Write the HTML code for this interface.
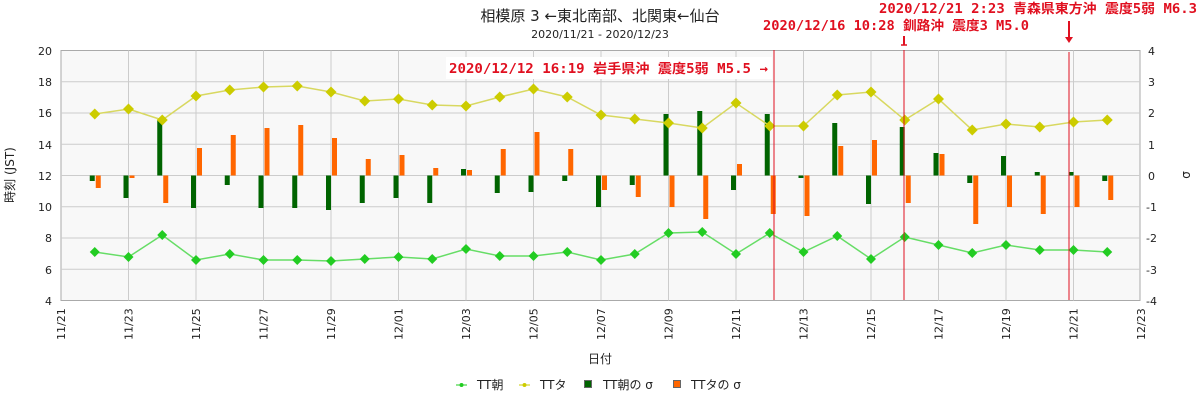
<!DOCTYPE html>
<html><head><meta charset="utf-8"><style>
body{margin:0;background:#fff;}
svg{display:block;font-family:"DejaVu Sans","Liberation Sans","Noto Sans CJK JP",sans-serif;}
.t{font-size:11px;fill:#222}
.r{font-family:"DejaVu Sans Mono","Liberation Mono","Noto Sans CJK JP",monospace;font-weight:bold;font-size:13px;fill:#e01020}
</style></head><body>
<svg id="s" width="1200" height="400" xmlns="http://www.w3.org/2000/svg">
<rect x="61" y="50.5" width="1079" height="250" fill="#f8f8f8" stroke="#aaa"/>
<g id="grid" stroke="#ccc" stroke-width="1"></g>
<g id="bars"></g>
<g id="lines"></g>
<text x="600" y="21" text-anchor="middle" style="font-size:15px;fill:#222">相模原 3 ←東北南部、北関東←仙台</text>
<text x="600" y="38" text-anchor="middle" class="t">2020/11/21 - 2020/12/23</text>
<g class="t" text-anchor="end">
<text x="52" y="55">20</text><text x="52" y="86">18</text><text x="52" y="117">16</text><text x="52" y="149">14</text><text x="52" y="180">12</text><text x="52" y="211">10</text><text x="52" y="242">8</text><text x="52" y="274">6</text><text x="52" y="305">4</text>
</g>
<g class="t">
<text x="1148" y="55">4</text><text x="1148" y="86">3</text><text x="1148" y="117">2</text><text x="1148" y="149">1</text><text x="1148" y="180">0</text><text x="1146" y="211">-1</text><text x="1146" y="242">-2</text><text x="1146" y="274">-3</text><text x="1146" y="305">-4</text>
</g>
<text transform="translate(14,175) rotate(-90)" text-anchor="middle" class="t" style="font-size:12px">時刻 (JST)</text>
<text transform="translate(1190,175) rotate(-90)" text-anchor="middle" class="t" style="font-size:12px">σ</text>
<g class="t" id="xl">
<text transform="translate(65,340) rotate(-90)">11/21</text>
<text transform="translate(132.5,340) rotate(-90)">11/23</text>
<text transform="translate(200,340) rotate(-90)">11/25</text>
<text transform="translate(267.5,340) rotate(-90)">11/27</text>
<text transform="translate(335,340) rotate(-90)">11/29</text>
<text transform="translate(402.5,340) rotate(-90)">12/01</text>
<text transform="translate(470,340) rotate(-90)">12/03</text>
<text transform="translate(537.5,340) rotate(-90)">12/05</text>
<text transform="translate(605,340) rotate(-90)">12/07</text>
<text transform="translate(672.5,340) rotate(-90)">12/09</text>
<text transform="translate(740,340) rotate(-90)">12/11</text>
<text transform="translate(807.5,340) rotate(-90)">12/13</text>
<text transform="translate(875,340) rotate(-90)">12/15</text>
<text transform="translate(942.5,340) rotate(-90)">12/17</text>
<text transform="translate(1010,340) rotate(-90)">12/19</text>
<text transform="translate(1077.5,340) rotate(-90)">12/21</text>
<text transform="translate(1145,340) rotate(-90)">12/23</text>
</g>
<text x="600" y="363" text-anchor="middle" class="t" style="font-size:12px">日付</text>
<g class="t" style="font-size:12px">
<line x1="456" y1="385" x2="467" y2="385" stroke="#22cc22"/><circle cx="461.5" cy="385" r="2" fill="#22cc22"/>
<text x="477" y="389">TT朝</text>
<line x1="519" y1="385" x2="530" y2="385" stroke="#cccc00"/><circle cx="524.5" cy="385" r="2" fill="#cccc00"/>
<text x="540" y="389">TTタ</text>
<rect x="584.5" y="380.5" width="7" height="7" fill="#006400" stroke="#666"/>
<text x="603" y="389">TT朝の σ</text>
<rect x="673.5" y="380.5" width="7" height="7" fill="#ff6600" stroke="#666"/>
<text x="691" y="389">TTタの σ</text>
</g>
<line x1="774" y1="50" x2="774" y2="300" stroke="#e01020"/>
<line x1="904" y1="50" x2="904" y2="300" stroke="#e01020"/>
<line x1="1069" y1="52" x2="1069" y2="300" stroke="#e01020"/>
<rect x="446" y="57" width="326" height="22" fill="#fff"/>
<text x="449" y="73" class="r" textLength="319" lengthAdjust="spacingAndGlyphs">2020/12/12 16:19 岩手県沖 震度5弱 M5.5 →</text>
<text x="763" y="30" class="r" textLength="266" lengthAdjust="spacingAndGlyphs">2020/12/16 10:28 釧路沖 震度3 M5.0</text>
<text x="879" y="13" class="r" textLength="318" lengthAdjust="spacingAndGlyphs">2020/12/21 2:23 青森県東方沖 震度5弱 M6.3</text>
<line x1="904" y1="36" x2="904" y2="45" stroke="#e01020" stroke-width="2"/><line x1="901" y1="45" x2="907" y2="45" stroke="#e01020" stroke-width="1.5"/>
<line x1="1069" y1="21" x2="1069" y2="38" stroke="#e01020" stroke-width="2"/><path d="M1065 37 L1073 37 L1069 43 Z" fill="#e01020"/>
</svg>
<script>
var NS="http://www.w3.org/2000/svg";
function el(p,t,a){var e=document.createElementNS(NS,t);for(var k in a)e.setAttribute(k,a[k]);document.getElementById(p).appendChild(e);return e;}
for(var i=1;i<16;i++){var x=61+i*67.5;el("grid","line",{x1:x,y1:50.5,x2:x,y2:300.5});}
for(var j=1;j<8;j++){var y=50.5+j*31.25;el("grid","line",{x1:61,y1:y,x2:1140,y2:y});}
var Y=[114,109,120,96,90,87,86,92,101,99,105,106,97,89,97,115,119,123,128,103,126,126,95,92,120,99,130,124,127,122,120];
var G=[252,257,235,260,254,260,260,261,259,257,259,249,256,256,252,260,254,233,232,254,233,252,236,259,237,245,253,245,250,250,252];
var GB=[181,198,120,208,185,208,208,210,203,198,203,169,193,192,181,207,185,114,111,190,114,178,123,204,127,153,183,156,172,172,181];
var OB=[188,178,203,148,135,128,125,138,159,155,168,170,149,132,149,190,197,207,219,164,214,216,146,140,203,154,224,207,214,207,200];
function cx(i){return 61+(i+1)*33.75;}
var b0=175.5;
for(var i=0;i<31;i++){var c=cx(i);
 el("bars","rect",{x:c-5,y:Math.min(b0,GB[i]),width:5,height:Math.abs(GB[i]-b0),fill:"#006400"});
 el("bars","rect",{x:c+1,y:Math.min(b0,OB[i]),width:5,height:Math.abs(OB[i]-b0),fill:"#ff6600"});}
function series(d,col,lc,r){var p=d.map(function(v,i){return cx(i)+","+v;}).join(" ");
 el("lines","polyline",{points:p,fill:"none",stroke:lc,"stroke-width":1.5});
 d.forEach(function(v,i){var c=cx(i);el("lines","path",{d:"M"+c+" "+(v-r)+"L"+(c+r)+" "+v+"L"+c+" "+(v+r)+"L"+(c-r)+" "+v+"Z",fill:col});});}
series(Y,"#cccc00","#d8d860",5.5);
series(G,"#22cc22","#66dd66",5);
</script>
</body></html>
